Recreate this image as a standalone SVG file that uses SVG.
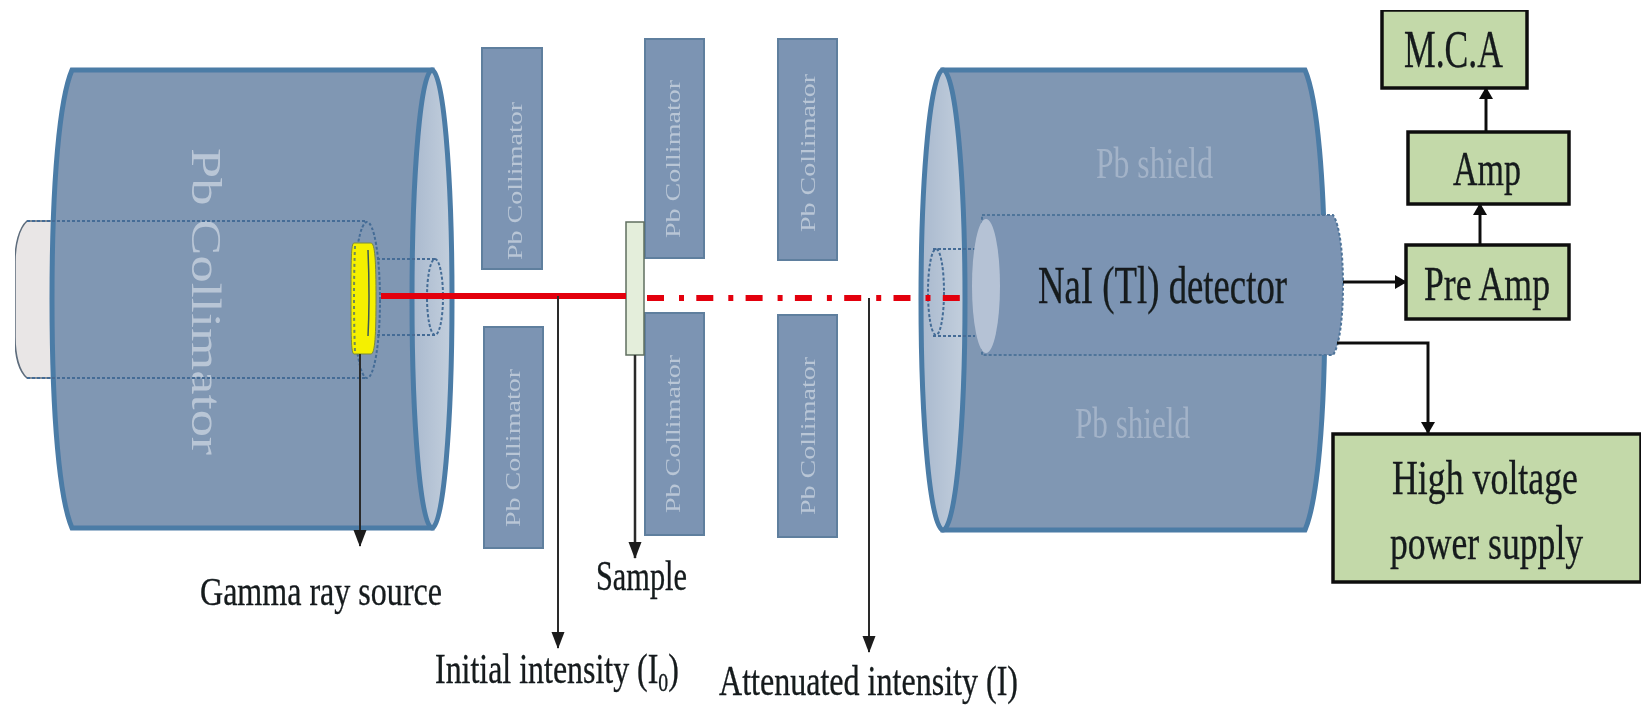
<svg xmlns="http://www.w3.org/2000/svg" width="1651" height="710" viewBox="0 0 1651 710">
<style>
text{font-family:"Liberation Serif","Times New Roman",serif;fill:#141a1c}
.ink{stroke:#141a1c;stroke-width:.35}
.body{fill:#8097b3;stroke:#4c7ba6;stroke-width:5}
.face{fill:url(#faceGrad);stroke:#4c7ba6;stroke-width:5}
.dash{fill:none;stroke:#446c96;stroke-width:2;stroke-dasharray:3 2}
.coll{fill:#7b94b3;stroke:#5f7f9e;stroke-width:2}
.collText{fill:#b9c6d6;font-size:22px}
.box{fill:#c3d9a9;stroke:#111;stroke-width:3.5}
.lead{fill:none;stroke:#2b2b2b;stroke-width:2;marker-end:url(#lead)}
.wire{fill:none;stroke:#111;stroke-width:3;marker-end:url(#wire)}
.shield{fill:#a3b3c8;font-size:44px}
</style>
<defs>
<linearGradient id="faceGrad" x1="0" y1="0" x2="1" y2="0"><stop offset="0" stop-color="#a9b9ce"/><stop offset="1" stop-color="#c3cfdd"/></linearGradient>
<marker id="lead" markerUnits="userSpaceOnUse" markerWidth="18" markerHeight="14" refX="16" refY="6.5" orient="auto"><path d="M0,0L17,6.5L0,13Z" fill="#1c1c1c"/></marker>
<marker id="wire" markerUnits="userSpaceOnUse" markerWidth="13" markerHeight="14" refX="11" refY="7" orient="auto"><path d="M0,0L12,7L0,14Z" fill="#111"/></marker>
<filter id="soft" x="0" y="0" width="100%" height="100%"><feGaussianBlur stdDeviation="0.5"/></filter>
</defs>
<rect width="1651" height="710" fill="#fff"/>
<g filter="url(#soft)">

<g id="source-holder">
<path d="M60,221H27C19,228 15,245 15,262V337C15,355 19,371 27,378H60Z" fill="#e9e6e6" stroke="#5d6c7c" stroke-width="1.5"/>
</g>

<g id="pb-collimator-main">
<path class="body" d="M72,70H432V528H72C60,500 52,420 52,299C52,178 60,98 72,70Z"/>
<ellipse class="face" cx="432" cy="299" rx="20" ry="229"/>
<text class="collText" transform="translate(192,148) rotate(90)" style="font-size:42px" textLength="307" lengthAdjust="spacingAndGlyphs">Pb Collimator</text>
</g>

<g id="source-tube">
<path class="dash" d="M27,221H367M27,378H367"/>
<ellipse class="dash" cx="367" cy="300" rx="13" ry="78"/>
</g>

<g id="gamma-source">
<path d="M354,243H371C375,243 376,262 376,298C376,334 375,354 371,354H354C351,354 351,334 351,298C351,262 351,243 354,243Z" fill="#f5f000" stroke="#7d8a3a" stroke-width="1"/>
<path d="M355,246Q353,298 355,352" fill="none" stroke="#6f8a55" stroke-width="2" stroke-dasharray="3 3"/>
<path d="M368,250Q370,298 368,336" fill="none" stroke="#3e5a55" stroke-width="1.5"/>
</g>

<g id="inlet-tube-left">
<path class="dash" d="M377,259H437M377,335H437"/>
<ellipse class="dash" cx="435" cy="297" rx="8" ry="38"/>
</g>

<g id="pb-collimator-1"><rect class="coll" x="482" y="48" width="60" height="221"/><text class="collText" transform="translate(522,260) rotate(-90)" textLength="158" lengthAdjust="spacingAndGlyphs">Pb Collimator</text></g>
<g id="pb-collimator-2"><rect class="coll" x="484" y="327" width="59" height="221"/><text class="collText" transform="translate(520,527) rotate(-90)" textLength="158" lengthAdjust="spacingAndGlyphs">Pb Collimator</text></g>
<g id="pb-collimator-3"><rect class="coll" x="645" y="39" width="59" height="219"/><text class="collText" transform="translate(680,238) rotate(-90)" textLength="158" lengthAdjust="spacingAndGlyphs">Pb Collimator</text></g>
<g id="pb-collimator-4"><rect class="coll" x="645" y="313" width="59" height="222"/><text class="collText" transform="translate(680,513) rotate(-90)" textLength="158" lengthAdjust="spacingAndGlyphs">Pb Collimator</text></g>
<g id="pb-collimator-5"><rect class="coll" x="778" y="39" width="59" height="221"/><text class="collText" transform="translate(815,232) rotate(-90)" textLength="158" lengthAdjust="spacingAndGlyphs">Pb Collimator</text></g>
<g id="pb-collimator-6"><rect class="coll" x="778" y="315" width="59" height="222"/><text class="collText" transform="translate(815,515) rotate(-90)" textLength="158" lengthAdjust="spacingAndGlyphs">Pb Collimator</text></g>

<g id="sample"><rect x="626" y="222" width="18" height="133" fill="#e4eedb" stroke="#5f6f5f" stroke-width="1.5"/></g>

<g id="pb-shield">
<path class="body" d="M943,70H1305C1317,98 1325,178 1325,300C1325,422 1317,502 1305,530H943Z"/>
<ellipse class="face" cx="943" cy="300" rx="22" ry="230"/>
<text class="shield" x="1096" y="178" textLength="117" lengthAdjust="spacingAndGlyphs">Pb shield</text>
<text class="shield" x="1075" y="438" textLength="115" lengthAdjust="spacingAndGlyphs">Pb shield</text>
<path class="dash" d="M933,249H975M933,336H975"/>
<ellipse class="dash" cx="936" cy="292" rx="8" ry="43"/>
</g>

<g id="nai-detector">
<path d="M982,215H1333C1340,225 1343,255 1343,285C1343,315 1340,345 1333,355H982Z" fill="#7b94b3" stroke="#4f749a" stroke-width="2" stroke-dasharray="3 2"/>
<ellipse cx="986" cy="286" rx="14" ry="67" fill="#b5c2d5"/>
<text class="ink" x="1038" y="303" font-size="52" textLength="249" lengthAdjust="spacingAndGlyphs">NaI (Tl) detector</text>
</g>

<g id="connectors">
<path d="M381,296H626" fill="none" stroke="#e3000f" stroke-width="6"/>
<path d="M647,298H965" fill="none" stroke="#e3000f" stroke-width="6" stroke-dasharray="17 15 5 12.3"/>
<path class="lead" d="M360,354V546"/>
<path class="lead" d="M558,296V648"/>
<path class="lead" d="M635,355V558" style="stroke-width:2.5"/>
<path class="lead" d="M869,298V652"/>
<path class="wire" d="M1343,282H1406"/>
<path class="wire" d="M1480,245V204"/>
<path class="wire" d="M1486,132V88"/>
<path class="wire" d="M1337,343H1428V433"/>
</g>

<g id="mca"><rect class="box" x="1382" y="10" width="145" height="78"/><text class="ink" x="1404" y="67" font-size="52" textLength="99" lengthAdjust="spacingAndGlyphs">M.C.A</text></g>
<g id="amp"><rect class="box" x="1408" y="132" width="161" height="72"/><text class="ink" x="1453" y="185" font-size="48" textLength="68" lengthAdjust="spacingAndGlyphs">Amp</text></g>
<g id="pre-amp"><rect class="box" x="1406" y="245" width="163" height="74"/><text class="ink" x="1424" y="300" font-size="48" textLength="126" lengthAdjust="spacingAndGlyphs">Pre Amp</text></g>
<g id="hv-supply"><rect class="box" x="1333" y="434" width="308" height="148"/>
<text class="ink" transform="translate(1392,494) scale(.731,1)" font-size="49">High voltage</text>
<text class="ink" transform="translate(1390,559) scale(.728,1)" font-size="49">power supply</text></g>

<g id="labels">
<text class="ink" x="200" y="605" font-size="41" textLength="242" lengthAdjust="spacingAndGlyphs">Gamma ray source</text>
<text class="ink" x="596" y="590" font-size="42" textLength="91" lengthAdjust="spacingAndGlyphs">Sample</text>
<text class="ink" transform="translate(435,683) scale(.76,1)" font-size="42">Initial intensity (I<tspan dy="8" font-size="26">0</tspan><tspan dy="-8">)</tspan></text>
<text class="ink" x="719" y="695" font-size="42" textLength="299" lengthAdjust="spacingAndGlyphs">Attenuated intensity (I)</text>
</g>
</g>
</svg>
